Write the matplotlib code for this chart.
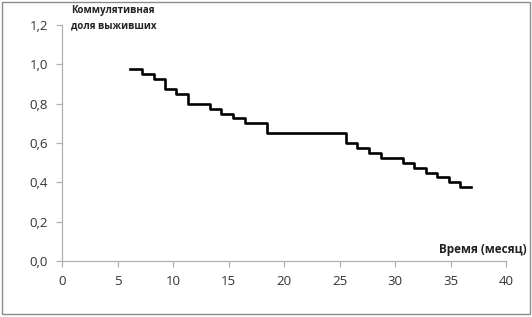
import matplotlib
matplotlib.use("Agg")
import matplotlib.pyplot as plt
from matplotlib.patches import Rectangle

plt.rcParams['font.family'] = ['Open Sans', 'DejaVu Sans']

# data
times = [6.1, 7.25, 8.25, 9.3, 10.3, 11.35, 13.35, 14.35, 15.4, 16.45, 18.5,
         25.6, 26.6, 27.65, 28.7, 30.7, 31.7, 32.75, 33.8, 34.85, 35.85, 36.85]
survival = [0.975, 0.95, 0.925, 0.875, 0.85, 0.80, 0.775, 0.75, 0.725, 0.70, 0.65,
            0.60, 0.575, 0.55, 0.525, 0.50, 0.475, 0.45, 0.425, 0.40, 0.375, 0.375]
xticks = [0, 5, 10, 15, 20, 25, 30, 35, 40]
yticks = [0.0, 0.2, 0.4, 0.6, 0.8, 1.0, 1.2]
ytick_labels = ['0,0', '0,2', '0,4', '0,6', '0,8', '1,0', '1,2']

fig = plt.figure(figsize=(5.32, 3.17), dpi=100)
ax = fig.add_axes([62/532, 1 - 261/317, (506-62)/532, (261-25)/317])

ax.plot(times, survival, drawstyle='steps-post', color='black', lw=1.9)

ax.set_xlim(0, 40)
ax.set_ylim(0, 1.2)
ax.set_xticks(xticks)
ax.set_xticklabels([str(t) for t in xticks])
ax.set_yticks(yticks)
ax.set_yticklabels(ytick_labels)

for s in ['top', 'right']:
    ax.spines[s].set_visible(False)
for s in ['left', 'bottom']:
    ax.spines[s].set_color('#b0b0b0')
    ax.spines[s].set_linewidth(0.9)
ax.tick_params(axis='both', colors='#b0b0b0', labelcolor='#333333',
               labelsize=9.5, length=4, width=0.9, direction='out')
ax.tick_params(axis='x', pad=6)
ax.tick_params(axis='y', pad=6)

fig.text(71/532, 1 - 18/317, 'Коммулятивная\nдоля выживших', fontsize=7.0,
         fontweight='bold', va='center', ha='left', linespacing=1.6, color='#222222')
fig.text(527/532, 1 - 250/317, 'Время (месяц)', fontsize=8.5, fontweight='bold',
         ha='right', va='center', color='#222222')

fig.patches.append(Rectangle((1.5/532, 3.5/317), 528.5/532, 312/317, transform=fig.transFigure,
                             fill=False, edgecolor='#8c8c8c', lw=1.0))

fig.savefig('out.png', dpi=100)
